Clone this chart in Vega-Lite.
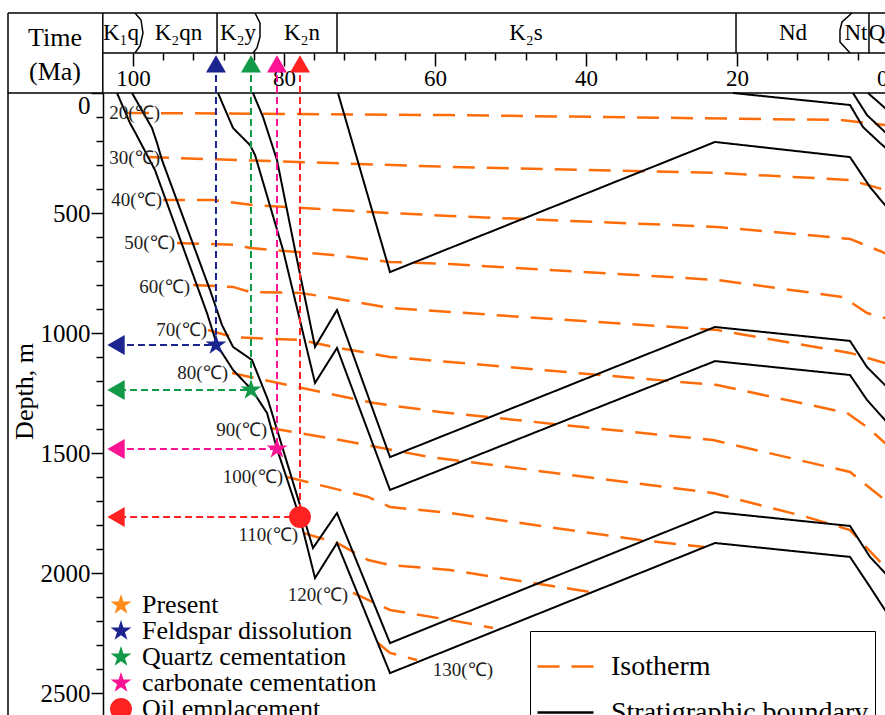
{
  "$schema": "https://vega.github.io/schema/vega-lite/v6.json",
  "width": 880,
  "height": 624,
  "autosize": {"type": "none"},
  "padding": {"left": 8, "top": 93, "right": 0, "bottom": 0},
  "config": {
    "aria": false,
    "view": {"stroke": "black", "strokeWidth": 1.5},
    "font": "Liberation Serif",
    "axis": {"labelFont": "Liberation Serif", "titleFont": "Liberation Serif", "labelColor": "black", "titleColor": "black", "tickColor": "black", "domainColor": "black", "grid": false},
    "legend": {"labelFont": "Liberation Serif", "labelColor": "black", "labelLimit": 400}
  },
  "datasets": {
    "strata": [
      {"unit": "K₁q", "t": 101.59}, {"unit": "K₂qn", "t": 93.97}, {"unit": "K₂y", "t": 86.09},
      {"unit": "K₂n", "t": 77.62}, {"unit": "K₂s", "t": 47.95}, {"unit": "Nd", "t": 12.58},
      {"unit": "Nt", "t": 4.24}, {"unit": "Q", "t": 1.46}
    ],
    "frame": [
      {"id": "T", "t": 116.556, "d": -333.3}, {"id": "T", "t": 0, "d": -333.3},
      {"id": "Lb", "t": 116.556, "d": -333.3}, {"id": "Lb", "t": 116.556, "d": 0},
      {"id": "L", "t": 104, "d": -333.3}, {"id": "L", "t": 104, "d": 0},
      {"id": "H", "t": 104, "d": -166.7}, {"id": "H", "t": 0, "d": -166.7},
      {"id": "d1", "t": 88.87, "d": -333.3}, {"id": "d1", "t": 88.87, "d": -166.7},
      {"id": "d2", "t": 72.98, "d": -333.3}, {"id": "d2", "t": 72.98, "d": -166.7},
      {"id": "d3", "t": 20.13, "d": -333.3}, {"id": "d3", "t": 20.13, "d": -166.7},
      {"id": "d4", "t": 2.52, "d": -333.3}, {"id": "d4", "t": 2.52, "d": -166.7},
      {"id": "a", "t": 99.74, "d": -333.3}, {"id": "a", "t": 98.94, "d": -304.2}, {"id": "a", "t": 98.68, "d": -250}, {"id": "a", "t": 99.07, "d": -195.8}, {"id": "a", "t": 99.74, "d": -166.7},
      {"id": "b", "t": 83.84, "d": -333.3}, {"id": "b", "t": 83.18, "d": -291.7}, {"id": "b", "t": 83.18, "d": -233.3}, {"id": "b", "t": 83.58, "d": -187.5}, {"id": "b", "t": 84.11, "d": -166.7},
      {"id": "c", "t": 4.77, "d": -333.3}, {"id": "c", "t": 6.09, "d": -295.8}, {"id": "c", "t": 6.36, "d": -262.5}, {"id": "c", "t": 6.36, "d": -212.5}, {"id": "c", "t": 5.03, "d": -166.7}
    ],
    "mk": [
      {"marker": "Feldspar dissolution", "t": 89.01, "d": 1050},
      {"marker": "Quartz cementation", "t": 84.37, "d": 1237.5},
      {"marker": "carbonate cementation", "t": 80.93, "d": 1483},
      {"marker": "Oil emplacement", "t": 77.88, "d": 1767}
    ],
    "mkg": [
      {"marker": "Feldspar dissolution", "i": 0, "t": 89.01, "d": -75}, {"marker": "Feldspar dissolution", "i": 1, "t": 89.01, "d": 1050}, {"marker": "Feldspar dissolution", "i": 2, "t": 101.46, "d": 1050},
      {"marker": "Quartz cementation", "i": 0, "t": 84.37, "d": -75}, {"marker": "Quartz cementation", "i": 1, "t": 84.37, "d": 1237.5}, {"marker": "Quartz cementation", "i": 2, "t": 101.46, "d": 1237.5},
      {"marker": "carbonate cementation", "i": 0, "t": 80.93, "d": -75}, {"marker": "carbonate cementation", "i": 1, "t": 80.93, "d": 1483}, {"marker": "carbonate cementation", "i": 2, "t": 101.46, "d": 1483},
      {"marker": "Oil emplacement", "i": 0, "t": 77.88, "d": -75}, {"marker": "Oil emplacement", "i": 1, "t": 77.88, "d": 1767}, {"marker": "Oil emplacement", "i": 2, "t": 101.46, "d": 1767}
    ],
    "ilab": [
      {"lab": "20(℃)", "t": 96.42, "d": 83}, {"lab": "30(℃)", "t": 96.42, "d": 271},
      {"lab": "40(℃)", "t": 96.16, "d": 446}, {"lab": "50(℃)", "t": 94.44, "d": 625},
      {"lab": "60(℃)", "t": 92.45, "d": 808}, {"lab": "70(℃)", "t": 90.2, "d": 987.5},
      {"lab": "80(℃)", "t": 87.42, "d": 1167}, {"lab": "90(℃)", "t": 82.25, "d": 1404},
      {"lab": "100(℃)", "t": 80.13, "d": 1600}, {"lab": "110(℃)", "t": 78.15, "d": 1842},
      {"lab": "120(℃)", "t": 71.52, "d": 2092}, {"lab": "130(℃)", "t": 52.32, "d": 2404}
    ],
    "iso": [
      {"kind": "Isotherm", "id": 20, "t": 100.79, "d": 83}, {"kind": "Isotherm", "id": 20, "t": 58.01, "d": 92}, {"kind": "Isotherm", "id": 20, "t": 6.36, "d": 112.5}, {"kind": "Isotherm", "id": 20, "t": 0.4, "d": 133}, {"kind": "Isotherm", "id": 20, "t": 0, "d": 133},
      {"kind": "Isotherm", "id": 30, "t": 98.15, "d": 267}, {"kind": "Isotherm", "id": 30, "t": 58.01, "d": 308}, {"kind": "Isotherm", "id": 30, "t": 22.65, "d": 333}, {"kind": "Isotherm", "id": 30, "t": 5.03, "d": 362.5}, {"kind": "Isotherm", "id": 30, "t": 0.4, "d": 404}, {"kind": "Isotherm", "id": 30, "t": 0, "d": 410},
      {"kind": "Isotherm", "id": 40, "t": 96.03, "d": 446}, {"kind": "Isotherm", "id": 40, "t": 89.4, "d": 446}, {"kind": "Isotherm", "id": 40, "t": 84.11, "d": 467}, {"kind": "Isotherm", "id": 40, "t": 65.96, "d": 500}, {"kind": "Isotherm", "id": 40, "t": 58.01, "d": 512.5}, {"kind": "Isotherm", "id": 40, "t": 22.65, "d": 558}, {"kind": "Isotherm", "id": 40, "t": 5.03, "d": 608}, {"kind": "Isotherm", "id": 40, "t": 0.4, "d": 667}, {"kind": "Isotherm", "id": 40, "t": 0, "d": 675},
      {"kind": "Isotherm", "id": 50, "t": 94.17, "d": 625}, {"kind": "Isotherm", "id": 50, "t": 86.23, "d": 633}, {"kind": "Isotherm", "id": 50, "t": 84.5, "d": 646}, {"kind": "Isotherm", "id": 50, "t": 73.51, "d": 675}, {"kind": "Isotherm", "id": 50, "t": 65.96, "d": 704}, {"kind": "Isotherm", "id": 50, "t": 58.01, "d": 712.5}, {"kind": "Isotherm", "id": 50, "t": 22.65, "d": 779}, {"kind": "Isotherm", "id": 50, "t": 5.96, "d": 850}, {"kind": "Isotherm", "id": 50, "t": 2.78, "d": 917}, {"kind": "Isotherm", "id": 50, "t": 0.4, "d": 937.5}, {"kind": "Isotherm", "id": 50, "t": 0, "d": 940},
      {"kind": "Isotherm", "id": 60, "t": 92.05, "d": 800}, {"kind": "Isotherm", "id": 60, "t": 86.75, "d": 808}, {"kind": "Isotherm", "id": 60, "t": 84.5, "d": 829}, {"kind": "Isotherm", "id": 60, "t": 77.88, "d": 833}, {"kind": "Isotherm", "id": 60, "t": 73.51, "d": 854}, {"kind": "Isotherm", "id": 60, "t": 65.96, "d": 896}, {"kind": "Isotherm", "id": 60, "t": 58.01, "d": 912.5}, {"kind": "Isotherm", "id": 60, "t": 22.65, "d": 987.5}, {"kind": "Isotherm", "id": 60, "t": 5.03, "d": 1083}, {"kind": "Isotherm", "id": 60, "t": 0.4, "d": 1125}, {"kind": "Isotherm", "id": 60, "t": 0, "d": 1130},
      {"kind": "Isotherm", "id": 70, "t": 90.07, "d": 987.5}, {"kind": "Isotherm", "id": 70, "t": 86.75, "d": 1017}, {"kind": "Isotherm", "id": 70, "t": 84.11, "d": 1021}, {"kind": "Isotherm", "id": 70, "t": 77.88, "d": 1029}, {"kind": "Isotherm", "id": 70, "t": 73.51, "d": 1058}, {"kind": "Isotherm", "id": 70, "t": 65.96, "d": 1100}, {"kind": "Isotherm", "id": 70, "t": 58.01, "d": 1121}, {"kind": "Isotherm", "id": 70, "t": 22.65, "d": 1217}, {"kind": "Isotherm", "id": 70, "t": 5.43, "d": 1333}, {"kind": "Isotherm", "id": 70, "t": 2.78, "d": 1392}, {"kind": "Isotherm", "id": 70, "t": 0.4, "d": 1458}, {"kind": "Isotherm", "id": 70, "t": 0, "d": 1467},
      {"kind": "Isotherm", "id": 80, "t": 86.89, "d": 1167}, {"kind": "Isotherm", "id": 80, "t": 78.28, "d": 1225}, {"kind": "Isotherm", "id": 80, "t": 68.08, "d": 1292}, {"kind": "Isotherm", "id": 80, "t": 59.34, "d": 1329}, {"kind": "Isotherm", "id": 80, "t": 40.4, "d": 1392}, {"kind": "Isotherm", "id": 80, "t": 23.18, "d": 1446}, {"kind": "Isotherm", "id": 80, "t": 5.03, "d": 1579}, {"kind": "Isotherm", "id": 80, "t": 0.4, "d": 1696}, {"kind": "Isotherm", "id": 80, "t": 0, "d": 1712},
      {"kind": "Isotherm", "id": 90, "t": 81.85, "d": 1396}, {"kind": "Isotherm", "id": 90, "t": 72.58, "d": 1446}, {"kind": "Isotherm", "id": 90, "t": 60.66, "d": 1517}, {"kind": "Isotherm", "id": 90, "t": 23.18, "d": 1667}, {"kind": "Isotherm", "id": 90, "t": 10.73, "d": 1767}, {"kind": "Isotherm", "id": 90, "t": 5.03, "d": 1821}, {"kind": "Isotherm", "id": 90, "t": 0.4, "d": 1975}, {"kind": "Isotherm", "id": 90, "t": 0, "d": 1992},
      {"kind": "Isotherm", "id": 100, "t": 79.6, "d": 1600}, {"kind": "Isotherm", "id": 100, "t": 68.87, "d": 1683}, {"kind": "Isotherm", "id": 100, "t": 65.96, "d": 1725}, {"kind": "Isotherm", "id": 100, "t": 58.01, "d": 1750}, {"kind": "Isotherm", "id": 100, "t": 32.85, "d": 1862.5}, {"kind": "Isotherm", "id": 100, "t": 24.24, "d": 1892},
      {"kind": "Isotherm", "id": 110, "t": 77.48, "d": 1833}, {"kind": "Isotherm", "id": 110, "t": 72.98, "d": 1875}, {"kind": "Isotherm", "id": 110, "t": 68.87, "d": 1946}, {"kind": "Isotherm", "id": 110, "t": 65.96, "d": 1967}, {"kind": "Isotherm", "id": 110, "t": 58.01, "d": 1987.5}, {"kind": "Isotherm", "id": 110, "t": 39.47, "d": 2079},
      {"kind": "Isotherm", "id": 120, "t": 70.86, "d": 2083}, {"kind": "Isotherm", "id": 120, "t": 65.96, "d": 2154}, {"kind": "Isotherm", "id": 120, "t": 58.01, "d": 2196}, {"kind": "Isotherm", "id": 120, "t": 52.32, "d": 2229},
      {"kind": "Isotherm", "id": 130, "t": 67.55, "d": 2292}, {"kind": "Isotherm", "id": 130, "t": 65.96, "d": 2333}, {"kind": "Isotherm", "id": 130, "t": 62.38, "d": 2362.5}
    ],
    "bnd": [
      {"kind": "Stratigraphic boundary", "id": "A1", "t": 102.12, "d": 0}, {"kind": "Stratigraphic boundary", "id": "A1", "t": 100.4, "d": 125}, {"kind": "Stratigraphic boundary", "id": "A1", "t": 99.74, "d": 162.5}, {"kind": "Stratigraphic boundary", "id": "A1", "t": 97.09, "d": 321}, {"kind": "Stratigraphic boundary", "id": "A1", "t": 90.2, "d": 917}, {"kind": "Stratigraphic boundary", "id": "A1", "t": 88.87, "d": 1050}, {"kind": "Stratigraphic boundary", "id": "A1", "t": 86.75, "d": 1154}, {"kind": "Stratigraphic boundary", "id": "A1", "t": 84.24, "d": 1237.5}, {"kind": "Stratigraphic boundary", "id": "A1", "t": 82.25, "d": 1333}, {"kind": "Stratigraphic boundary", "id": "A1", "t": 80.93, "d": 1483}, {"kind": "Stratigraphic boundary", "id": "A1", "t": 77.88, "d": 1771}, {"kind": "Stratigraphic boundary", "id": "A1", "t": 75.89, "d": 2021}, {"kind": "Stratigraphic boundary", "id": "A1", "t": 72.98, "d": 1875}, {"kind": "Stratigraphic boundary", "id": "A1", "t": 65.96, "d": 2417}, {"kind": "Stratigraphic boundary", "id": "A1", "t": 22.91, "d": 1875}, {"kind": "Stratigraphic boundary", "id": "A1", "t": 5.03, "d": 1933}, {"kind": "Stratigraphic boundary", "id": "A1", "t": 2.38, "d": 2058}, {"kind": "Stratigraphic boundary", "id": "A1", "t": 0.4, "d": 2154}, {"kind": "Stratigraphic boundary", "id": "A1", "t": 0, "d": 2175},
      {"kind": "Stratigraphic boundary", "id": "A2", "t": 100.13, "d": 0}, {"kind": "Stratigraphic boundary", "id": "A2", "t": 97.48, "d": 146}, {"kind": "Stratigraphic boundary", "id": "A2", "t": 96.82, "d": 208}, {"kind": "Stratigraphic boundary", "id": "A2", "t": 96.16, "d": 279}, {"kind": "Stratigraphic boundary", "id": "A2", "t": 89.8, "d": 821}, {"kind": "Stratigraphic boundary", "id": "A2", "t": 88.21, "d": 967}, {"kind": "Stratigraphic boundary", "id": "A2", "t": 86.75, "d": 1058}, {"kind": "Stratigraphic boundary", "id": "A2", "t": 84.24, "d": 1112.5}, {"kind": "Stratigraphic boundary", "id": "A2", "t": 82.12, "d": 1279}, {"kind": "Stratigraphic boundary", "id": "A2", "t": 76.16, "d": 1896}, {"kind": "Stratigraphic boundary", "id": "A2", "t": 72.98, "d": 1750}, {"kind": "Stratigraphic boundary", "id": "A2", "t": 65.96, "d": 2292}, {"kind": "Stratigraphic boundary", "id": "A2", "t": 22.91, "d": 1746}, {"kind": "Stratigraphic boundary", "id": "A2", "t": 5.03, "d": 1804}, {"kind": "Stratigraphic boundary", "id": "A2", "t": 2.38, "d": 1933}, {"kind": "Stratigraphic boundary", "id": "A2", "t": 0.4, "d": 2000}, {"kind": "Stratigraphic boundary", "id": "A2", "t": 0, "d": 2012},
      {"kind": "Stratigraphic boundary", "id": "B1", "t": 88.74, "d": 0}, {"kind": "Stratigraphic boundary", "id": "B1", "t": 86.75, "d": 146}, {"kind": "Stratigraphic boundary", "id": "B1", "t": 84.5, "d": 217}, {"kind": "Stratigraphic boundary", "id": "B1", "t": 83.84, "d": 258}, {"kind": "Stratigraphic boundary", "id": "B1", "t": 80.13, "d": 654}, {"kind": "Stratigraphic boundary", "id": "B1", "t": 75.89, "d": 1208}, {"kind": "Stratigraphic boundary", "id": "B1", "t": 72.98, "d": 1062.5}, {"kind": "Stratigraphic boundary", "id": "B1", "t": 65.96, "d": 1654}, {"kind": "Stratigraphic boundary", "id": "B1", "t": 22.91, "d": 1117}, {"kind": "Stratigraphic boundary", "id": "B1", "t": 5.03, "d": 1175}, {"kind": "Stratigraphic boundary", "id": "B1", "t": 2.78, "d": 1279}, {"kind": "Stratigraphic boundary", "id": "B1", "t": 0.4, "d": 1362.5}, {"kind": "Stratigraphic boundary", "id": "B1", "t": 0, "d": 1379},
      {"kind": "Stratigraphic boundary", "id": "B2", "t": 84.11, "d": 0}, {"kind": "Stratigraphic boundary", "id": "B2", "t": 82.78, "d": 100}, {"kind": "Stratigraphic boundary", "id": "B2", "t": 80.93, "d": 279}, {"kind": "Stratigraphic boundary", "id": "B2", "t": 78.54, "d": 654}, {"kind": "Stratigraphic boundary", "id": "B2", "t": 75.89, "d": 1058}, {"kind": "Stratigraphic boundary", "id": "B2", "t": 72.98, "d": 904}, {"kind": "Stratigraphic boundary", "id": "B2", "t": 65.96, "d": 1517}, {"kind": "Stratigraphic boundary", "id": "B2", "t": 22.91, "d": 975}, {"kind": "Stratigraphic boundary", "id": "B2", "t": 5.03, "d": 1033}, {"kind": "Stratigraphic boundary", "id": "B2", "t": 2.78, "d": 1142}, {"kind": "Stratigraphic boundary", "id": "B2", "t": 0.4, "d": 1217}, {"kind": "Stratigraphic boundary", "id": "B2", "t": 0, "d": 1229},
      {"kind": "Stratigraphic boundary", "id": "C", "t": 72.85, "d": 0}, {"kind": "Stratigraphic boundary", "id": "C", "t": 65.96, "d": 746}, {"kind": "Stratigraphic boundary", "id": "C", "t": 22.91, "d": 204}, {"kind": "Stratigraphic boundary", "id": "C", "t": 5.03, "d": 267}, {"kind": "Stratigraphic boundary", "id": "C", "t": 2.38, "d": 392}, {"kind": "Stratigraphic boundary", "id": "C", "t": 0.4, "d": 467}, {"kind": "Stratigraphic boundary", "id": "C", "t": 0, "d": 483},
      {"kind": "Stratigraphic boundary", "id": "D", "t": 20.53, "d": 0}, {"kind": "Stratigraphic boundary", "id": "D", "t": 5.03, "d": 50}, {"kind": "Stratigraphic boundary", "id": "D", "t": 3.31, "d": 142}, {"kind": "Stratigraphic boundary", "id": "D", "t": 1.06, "d": 208}, {"kind": "Stratigraphic boundary", "id": "D", "t": 0, "d": 237.5},
      {"kind": "Stratigraphic boundary", "id": "E", "t": 4.64, "d": 0}, {"kind": "Stratigraphic boundary", "id": "E", "t": 2.78, "d": 92}, {"kind": "Stratigraphic boundary", "id": "E", "t": 0.4, "d": 162.5}, {"kind": "Stratigraphic boundary", "id": "E", "t": 0, "d": 175},
      {"kind": "Stratigraphic boundary", "id": "F", "t": 2.65, "d": 0}, {"kind": "Stratigraphic boundary", "id": "F", "t": 0.4, "d": 62.5}, {"kind": "Stratigraphic boundary", "id": "F", "t": 0, "d": 75}
    ]
  },
  "resolve": {"axis": {"x": "independent", "y": "independent"}},
  "layer": [
    {
      "data": {"name": "iso"},
      "mark": {"type": "line", "strokeWidth": 2.5},
      "encoding": {
        "x": {"field": "t", "type": "quantitative", "scale": {"domain": [0, 116.556], "reverse": true, "nice": false, "zero": false}, "axis": null},
        "y": {"field": "d", "type": "quantitative", "scale": {"domain": [0, 2600], "reverse": true, "nice": false, "zero": false},
          "axis": {"orient": "left", "offset": -95, "title": "Depth, m", "format": "d",
            "values": [0, 500, 1000, 1500, 2000, 2500], "tickSize": 12,
            "tickWidth": 1.5, "domainWidth": 1.5,
            "labelFontSize": 25, "labelPadding": 1,
            "labelFlush": true, "labelOverlap": false, "labelBound": false,
            "titleFontSize": 26, "titleFontWeight": "normal", "titleAngle": -90,
            "titleX": -71, "titleY": 298, "titleAlign": "center", "titleBaseline": "alphabetic"}},
        "detail": {"field": "id", "type": "nominal"},
        "color": {"field": "kind", "type": "nominal",
          "scale": {"domain": ["Isotherm", "Stratigraphic boundary"], "range": ["#ff6d0a", "#000000"]},
          "legend": {"orient": "none", "legendX": 522, "legendY": 538, "title": null, "labelFontSize": 28,
            "strokeColor": "black", "fillColor": "white", "padding": 6, "symbolType": "stroke",
            "symbolSize": 3136, "symbolStrokeWidth": 2.5, "rowPadding": 2, "labelOffset": 16, "labelLimit": 400}},
        "strokeDash": {"field": "kind", "type": "nominal",
          "scale": {"domain": ["Isotherm", "Stratigraphic boundary"], "range": [[22, 12], [1, 0]]}}
      }
    },
    {
      "data": {"name": "bnd"},
      "mark": {"type": "line", "strokeWidth": 2},
      "encoding": {
        "x": {"field": "t", "type": "quantitative", "axis": null},
        "y": {"field": "d", "type": "quantitative",
          "axis": {"orient": "left", "offset": -95, "title": null, "domain": false, "labels": false,
            "values": [100, 200, 300, 400, 600, 700, 800, 900, 1100, 1200, 1300, 1400, 1600, 1700, 1800, 1900, 2100, 2200, 2300, 2400],
            "tickSize": 7, "tickWidth": 1.5}},
        "detail": {"field": "id", "type": "nominal"},
        "color": {"field": "kind", "type": "nominal"},
        "strokeDash": {"field": "kind", "type": "nominal"}
      }
    },
    {
      "data": {"name": "frame"},
      "mark": {"type": "line", "color": "black", "strokeWidth": 1.5},
      "encoding": {
        "x": {"field": "t", "type": "quantitative",
          "axis": {"orient": "bottom", "offset": -664, "title": null, "domain": false, "format": "d",
            "values": [0, 20, 40, 60, 80, 100], "tickSize": 13, "tickWidth": 1.5,
            "labelFontSize": 23, "labelPadding": 1, "labelFlush": true, "labelOverlap": false, "labelBound": false}},
        "y": {"field": "d", "type": "quantitative", "axis": null},
        "detail": {"field": "id", "type": "nominal"},
        "order": {"field": "d", "type": "quantitative"}
      }
    },
    {
      "data": {"name": "strata"},
      "mark": {"type": "text", "fontSize": 23, "color": "black", "baseline": "middle"},
      "encoding": {
        "x": {"field": "t", "type": "quantitative",
          "axis": {"orient": "bottom", "offset": -664, "title": null, "domain": false, "labels": false,
            "values": [4, 8, 12, 16, 24, 28, 32, 36, 44, 48, 52, 56, 64, 68, 72, 76, 84, 88, 92, 96],
            "tickSize": 7, "tickWidth": 1.5}},
        "y": {"datum": -250, "type": "quantitative", "axis": null},
        "text": {"field": "unit", "type": "nominal"}
      }
    },
    {
      "data": {"name": "mkg"},
      "mark": {"type": "line", "strokeWidth": 2, "strokeDash": [7, 4]},
      "encoding": {
        "x": {"field": "t", "type": "quantitative", "axis": null},
        "y": {"field": "d", "type": "quantitative", "axis": null},
        "stroke": {"field": "marker", "type": "nominal",
          "scale": {"domain": ["Feldspar dissolution", "Quartz cementation", "carbonate cementation", "Oil emplacement"],
            "range": ["#1c2490", "#139a49", "#fa1493", "#ff2222"]}, "legend": null},
        "order": {"field": "i", "type": "quantitative"}
      }
    },
    {
      "data": {"name": "mk"},
      "mark": {"type": "point", "shape": "triangle-left", "filled": true, "size": 400, "opacity": 1},
      "encoding": {
        "x": {"datum": 102.25, "type": "quantitative", "axis": null},
        "y": {"field": "d", "type": "quantitative", "axis": null},
        "fill": {"field": "marker", "type": "nominal"}
      }
    },
    {
      "data": {"name": "mk"},
      "mark": {"type": "point", "shape": "triangle-up", "filled": true, "size": 400, "opacity": 1},
      "encoding": {
        "x": {"field": "t", "type": "quantitative", "axis": null},
        "y": {"datum": -121.7, "type": "quantitative", "axis": null},
        "fill": {"field": "marker", "type": "nominal"}
      }
    },
    {
      "data": {"name": "mk"},
      "mark": {"type": "point", "filled": true, "opacity": 1, "size": 480},
      "encoding": {
        "x": {"field": "t", "type": "quantitative", "axis": null},
        "y": {"field": "d", "type": "quantitative", "axis": null},
        "fill": {"field": "marker", "type": "nominal",
          "scale": {"domain": ["Present", "Feldspar dissolution", "Quartz cementation", "carbonate cementation", "Oil emplacement"],
            "range": ["#ff8c1a", "#1c2490", "#139a49", "#fa1493", "#ff2222"]},
          "legend": {"orient": "none", "legendX": 100, "legendY": 499, "title": null, "labelFontSize": 26,
            "rowPadding": -1, "labelOffset": 8, "padding": 0, "symbolStrokeWidth": 0, "symbolOpacity": 1, "symbolSize": 480, "labelLimit": 400}},
        "shape": {"field": "marker", "type": "nominal",
          "scale": {"domain": ["Present", "Feldspar dissolution", "Quartz cementation", "carbonate cementation", "Oil emplacement"],
            "range": [
              "M0,-1L0.2245,-0.309L0.951,-0.309L0.363,0.118L0.588,0.809L0,0.382L-0.588,0.809L-0.363,0.118L-0.951,-0.309L-0.2245,-0.309Z",
              "M0,-1L0.2245,-0.309L0.951,-0.309L0.363,0.118L0.588,0.809L0,0.382L-0.588,0.809L-0.363,0.118L-0.951,-0.309L-0.2245,-0.309Z",
              "M0,-1L0.2245,-0.309L0.951,-0.309L0.363,0.118L0.588,0.809L0,0.382L-0.588,0.809L-0.363,0.118L-0.951,-0.309L-0.2245,-0.309Z",
              "M0,-1L0.2245,-0.309L0.951,-0.309L0.363,0.118L0.588,0.809L0,0.382L-0.588,0.809L-0.363,0.118L-0.951,-0.309L-0.2245,-0.309Z",
              "circle"]}}
      }
    },
    {
      "data": {"name": "ilab"},
      "mark": {"type": "text", "align": "right", "baseline": "middle", "fontSize": 19, "color": "#222222"},
      "encoding": {
        "x": {"field": "t", "type": "quantitative", "axis": null},
        "y": {"field": "d", "type": "quantitative", "axis": null},
        "text": {"field": "lab", "type": "nominal"}
      }
    },
    {
      "data": {"values": [{"lab": "Time|(Ma)", "t": 110.33}]},
      "mark": {"type": "text", "fontSize": 26, "lineHeight": 34, "lineBreak": "|", "color": "black", "baseline": "middle", "align": "center"},
      "encoding": {
        "x": {"field": "t", "type": "quantitative", "axis": null},
        "y": {"datum": -229.2, "type": "quantitative", "axis": null},
        "text": {"field": "lab", "type": "nominal"}
      }
    }
  ]
}
